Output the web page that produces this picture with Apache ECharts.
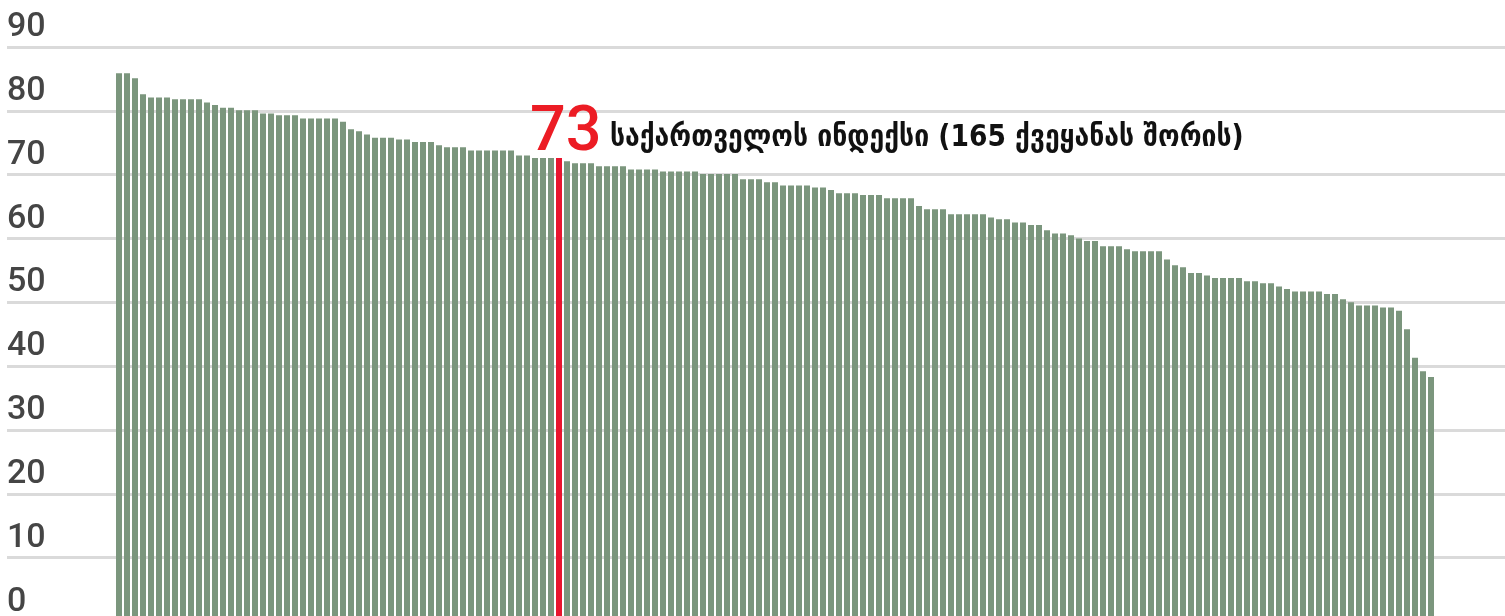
<!DOCTYPE html>
<html>
<head>
<meta charset="utf-8">
<script src="https://cdn.jsdelivr.net/npm/echarts@6/dist/echarts.min.js"></script>
<style>
  html, body { margin: 0; padding: 0; background: #fff; overflow: hidden; }
  /* the zero line sits just below the visible frame, so the chart is a bit taller than the window */
  #chart { width: 1505px; height: 630px; }
</style>
</head>
<body>
<div id="chart"></div>
<script>
// index values of the 165 countries, sorted high to low
const values = [
  85.9, 85.9, 85.1, 82.6, 82.1, 82.1, 82.1, 81.8, 81.8, 81.8,
  81.8, 81.3, 80.9, 80.5, 80.5, 80.1, 80.1, 80.1, 79.6, 79.6,
  79.3, 79.3, 79.3, 78.8, 78.8, 78.8, 78.8, 78.8, 78.3, 77.1,
  76.8, 76.3, 75.8, 75.8, 75.8, 75.5, 75.5, 75.1, 75.1, 75.1,
  74.6, 74.3, 74.3, 74.3, 73.8, 73.8, 73.8, 73.8, 73.8, 73.8,
  73.0, 73.0, 72.6, 72.6, 72.6, 72.6, 72.1, 71.8, 71.8, 71.8,
  71.3, 71.3, 71.3, 71.3, 70.8, 70.8, 70.8, 70.8, 70.5, 70.5,
  70.5, 70.5, 70.5, 70.1, 70.1, 70.1, 70.1, 70.1, 69.3, 69.3,
  69.3, 68.8, 68.8, 68.3, 68.3, 68.3, 68.3, 68.0, 68.0, 67.6,
  67.1, 67.1, 67.1, 66.8, 66.8, 66.8, 66.3, 66.3, 66.3, 66.3,
  65.1, 64.6, 64.6, 64.6, 63.8, 63.8, 63.8, 63.8, 63.8, 63.3,
  63.0, 63.0, 62.5, 62.5, 62.1, 62.1, 61.3, 60.8, 60.8, 60.5,
  60.0, 59.6, 59.6, 58.8, 58.8, 58.8, 58.3, 58.0, 58.0, 58.0,
  58.0, 56.7, 55.8, 55.5, 54.6, 54.6, 54.2, 53.8, 53.8, 53.8,
  53.8, 53.3, 53.3, 53.0, 53.0, 52.5, 52.1, 51.7, 51.7, 51.7,
  51.7, 51.3, 51.3, 50.5, 50.0, 49.5, 49.5, 49.5, 49.2, 49.2,
  48.7, 45.8, 41.3, 39.2, 38.3
]
// rank of each country (category axis)
const ranks = values.map((v, i) => String(i + 1))
const yTicks = [0, 10, 20, 30, 40, 50, 60, 70, 80, 90]

const georgiaIndex = 55
const georgiaLabel = '73'
const georgiaText = 'საქართველოს ინდექსი (165 ქვეყანას შორის)'

const barColor = '#7b967d'
const georgiaColor = '#e8152e'

const barData = values.map((v, i) => {
  if (i === georgiaIndex) {
    return { value: v, itemStyle: { color: georgiaColor } }
  }
  return v
})

let myChart = echarts.init(document.getElementById('chart'), null, { renderer: 'canvas' })
let option = {
  animation: false,
  backgroundColor: '#fff',
  grid: [
    // bars
    { left: 115, right: 70, top: 47, height: 574.5 },
    // full-width grid lines + labels
    { left: 7, right: 0, top: 47, height: 574.5 }
  ],
  xAxis: [
    {
      gridIndex: 0,
      type: 'category',
      data: ranks,
      axisLine: { show: false },
      axisTick: { show: false },
      axisLabel: { show: false }
    },
    {
      gridIndex: 1,
      type: 'value',
      show: false
    }
  ],
  yAxis: [
    {
      gridIndex: 0,
      type: 'value',
      min: 0,
      max: 90,
      interval: 10,
      show: false,
      splitLine: { show: false }
    },
    {
      gridIndex: 1,
      type: 'value',
      min: yTicks[0],
      max: yTicks[yTicks.length - 1],
      interval: 10,
      axisLine: { show: false },
      axisTick: { show: false },
      splitLine: { show: true, lineStyle: { color: '#dadada', width: 3 } },
      axisLabel: {
        inside: true,
        margin: 0,
        align: 'left',
        verticalAlign: 'bottom',
        lineHeight: 39,
        color: '#454545',
        fontFamily: 'Roboto',
        fontWeight: 500,
        fontSize: 34
      }
    }
  ],
  series: [
    {
      type: 'bar',
      xAxisIndex: 0,
      yAxisIndex: 0,
      data: barData,
      barCategoryGap: '25%',
      itemStyle: { color: barColor },
      z: 3,
      markPoint: {
        symbol: 'circle',
        symbolSize: 0,
        silent: true,
        data: [
          {
            coord: [georgiaIndex, values[georgiaIndex]],
            label: {
              show: true,
              formatter: georgiaLabel,
              position: 'inside',
              align: 'left',
              verticalAlign: 'middle',
              offset: [-29, -24],
              color: '#ec1c24',
              fontFamily: 'Roboto',
              fontWeight: 500,
              fontSize: 63
            }
          },
          {
            coord: [georgiaIndex, values[georgiaIndex]],
            label: {
              show: true,
              formatter: georgiaText,
              position: 'inside',
              align: 'left',
              verticalAlign: 'middle',
              offset: [51, -20],
              color: '#111',
              fontFamily: "'DejaVu Sans Condensed', 'DejaVu Sans'",
              fontWeight: 'bold',
              fontSize: 29.5
            }
          }
        ]
      }
    }
  ]
}
myChart.setOption(option, true)
</script>
</body>
</html>
